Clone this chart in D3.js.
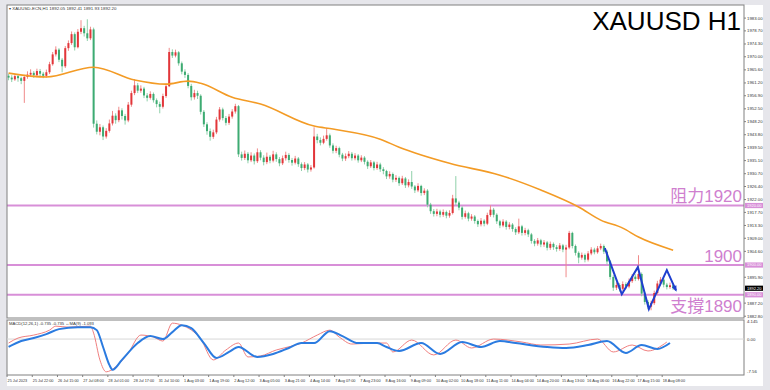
<!DOCTYPE html>
<html>
<head>
<meta charset="utf-8">
<script src="https://cdn.jsdelivr.net/npm/d3@7/dist/d3.min.js"></script>
<style>
  html, body { margin: 0; padding: 0; background: #e6e6eb; }
  svg { display: block; }
  text { font-family: "Liberation Sans", Arial, sans-serif; }
</style>
</head>
<body>
<svg id="chart" width="770" height="390"></svg>
<script>
// XAUUSD H1 candles (one candle per 2 hours of the original chart)
let opens = [1963.6,1963.0,1962.4,1963.5,1962.8,1961.9,1963.2,1964.0,1964.6,1963.8,1965.2,1964.3,1963.6,1964.8,1967.5,1970.8,1972.4,1969.0,1966.8,1972.9,
  1974.6,1977.6,1973.2,1978.4,1979.6,1977.9,1976.2,1979.2,1947.5,1944.8,1946.3,1943.2,1945.1,1947.6,1950.2,1948.7,1952.0,1950.1,1948.6,1953.9,
  1957.8,1960.4,1958.6,1959.3,1957.0,1956.2,1957.5,1955.4,1954.1,1953.2,1956.8,1960.1,1971.6,1970.4,1971.5,1967.8,1965.0,1963.9,1960.2,1956.4,
  1957.8,1956.9,1951.5,1947.3,1945.0,1943.1,1944.6,1948.9,1952.3,1949.4,1947.8,1949.9,1951.6,1953.4,1937.2,1936.0,1937.4,1935.2,1936.8,1934.9,
  1937.9,1936.1,1934.6,1936.4,1935.1,1937.2,1935.6,1934.2,1935.9,1937.0,1935.3,1934.4,1935.8,1933.9,1932.6,1933.8,1932.1,1932.8,1943.2,1942.0,
  1941.1,1942.4,1943.6,1940.2,1938.4,1939.3,1937.1,1935.8,1936.6,1937.4,1935.9,1936.8,1935.2,1936.1,1934.7,1933.2,1934.5,1932.6,1933.8,1932.2,
  1931.6,1929.8,1930.6,1928.7,1929.3,1927.5,1929.1,1926.8,1927.9,1926.4,1925.1,1926.6,1924.2,1925.0,1920.3,1918.1,1917.2,1918.0,1916.9,1917.8,
  1916.6,1917.5,1922.4,1921.0,1919.3,1916.2,1917.4,1915.6,1916.3,1914.8,1913.7,1914.9,1913.9,1916.8,1918.6,1916.9,1914.7,1913.3,1914.6,1912.8,
  1913.6,1912.1,1911.0,1913.0,1910.8,1911.7,1910.3,1908.1,1907.2,1908.3,1906.9,1907.6,1905.8,1907.1,1906.0,1905.4,1906.6,1905.2,1905.9,1910.8,
  1906.4,1904.1,1902.5,1903.4,1901.8,1903.9,1905.2,1904.3,1905.6,1906.4,1904.5,1901.2,1896.0,1892.4,1893.3,1892.0,1893.6,1892.8,1894.6,1896.1,
  1895.3,1897.0,1890.4,1887.6,1886.0,1887.2,1890.6,1893.8,1895.1,1893.4,1892.6,1893.2];
let highs = [1964.3,1963.8,1964.1,1964.0,1963.3,1963.9,1965.1,1965.8,1965.2,1966.0,1965.9,1964.9,1965.7,1968.3,1971.6,1973.5,1972.9,1969.6,1973.6,1975.5,
  1978.5,1978.2,1979.3,1982.3,1980.4,1982.6,1980.1,1979.8,1948.6,1947.4,1946.9,1946.0,1948.9,1951.8,1951.0,1953.2,1952.7,1950.8,1954.8,1958.6,
  1962.5,1961.2,1960.4,1959.9,1957.8,1958.4,1958.0,1956.0,1954.9,1957.6,1961.0,1973.0,1972.5,1972.4,1971.9,1968.4,1965.8,1964.5,1960.9,1958.9,
  1958.6,1957.4,1952.1,1948.0,1945.9,1945.5,1949.8,1953.1,1952.9,1950.1,1950.8,1952.4,1954.2,1953.8,1938.1,1938.5,1938.0,1937.9,1937.5,1939.2,
  1938.6,1936.9,1937.8,1937.0,1938.4,1937.9,1936.3,1936.8,1938.1,1937.6,1936.0,1936.7,1936.3,1934.5,1934.6,1934.3,1933.6,1946.3,1944.1,1942.9,
  1943.5,1946.0,1944.2,1940.9,1940.1,1939.8,1937.7,1937.5,1938.3,1938.0,1937.6,1937.3,1936.9,1936.6,1935.2,1935.3,1935.0,1934.7,1934.4,1932.9,
  1932.0,1931.5,1931.1,1930.2,1929.8,1930.0,1929.6,1928.8,1931.6,1926.9,1927.5,1927.0,1925.8,1925.5,1920.9,1918.8,1918.9,1918.6,1918.7,1918.3,
  1918.4,1923.6,1929.9,1921.6,1919.8,1918.3,1917.9,1917.1,1916.8,1915.3,1915.8,1915.4,1917.6,1920.1,1919.2,1917.4,1915.2,1915.4,1915.1,1914.4,
  1914.1,1912.7,1915.6,1913.5,1912.5,1912.2,1910.8,1908.7,1909.1,1908.8,1908.4,1908.1,1907.9,1907.6,1906.7,1907.4,1907.1,1906.8,1911.5,1911.2,
  1906.9,1904.6,1904.2,1903.9,1904.7,1906.0,1905.8,1906.4,1907.2,1906.9,1905.1,1901.7,1896.6,1894.2,1893.9,1894.5,1894.2,1895.5,1897.0,1896.9,
  1903.3,1897.5,1890.9,1888.2,1888.0,1891.4,1894.7,1896.0,1895.6,1894.0,1894.1,1893.7];
let lows = [1962.1,1961.5,1961.9,1961.6,1960.8,1954.5,1962.6,1963.4,1962.9,1963.1,1963.5,1962.8,1963.0,1964.2,1967.0,1970.1,1968.2,1964.8,1966.2,1972.0,
  1974.0,1972.1,1972.8,1977.6,1976.8,1975.3,1975.6,1946.2,1943.9,1943.6,1942.0,1942.5,1944.5,1946.9,1947.5,1948.0,1948.9,1947.2,1948.0,1953.2,
  1957.1,1957.8,1957.9,1956.1,1955.0,1955.6,1954.6,1953.0,1951.0,1952.6,1956.2,1959.8,1969.6,1969.8,1967.0,1964.1,1962.9,1959.4,1955.3,1955.6,
  1955.8,1950.6,1946.4,1943.8,1941.8,1942.4,1944.0,1948.2,1948.6,1946.9,1947.1,1949.2,1950.9,1936.3,1935.1,1935.3,1934.2,1934.6,1933.8,1934.3,
  1935.2,1933.5,1933.9,1934.2,1934.5,1934.7,1933.2,1933.6,1935.1,1934.4,1933.4,1933.8,1933.0,1931.6,1931.9,1931.1,1931.4,1932.4,1940.9,1940.2,
  1940.6,1941.8,1939.4,1937.5,1937.6,1936.2,1934.9,1935.0,1935.9,1935.1,1935.2,1934.4,1934.6,1933.8,1932.3,1932.6,1931.8,1932.0,1931.3,1930.5,
  1928.9,1929.0,1927.8,1927.9,1926.6,1926.9,1925.9,1926.1,1925.6,1924.2,1924.5,1923.3,1923.5,1919.4,1917.2,1916.3,1916.4,1916.0,1916.2,1915.7,
  1915.9,1917.0,1920.1,1918.4,1915.3,1915.6,1914.7,1914.9,1913.9,1912.8,1913.0,1913.0,1913.4,1916.2,1916.0,1913.8,1912.4,1912.7,1911.9,1912.0,
  1911.2,1910.1,1910.4,1909.9,1910.0,1909.4,1907.2,1906.3,1906.5,1906.0,1906.1,1904.9,1905.1,1905.1,1904.5,1904.8,1904.3,1895.9,1905.3,1905.6,
  1903.2,1900.6,1901.8,1900.9,1901.2,1903.3,1903.6,1903.8,1905.0,1903.7,1900.2,1895.1,1891.3,1891.6,1891.1,1891.4,1891.9,1892.2,1894.0,1894.6,
  1894.8,1889.5,1886.7,1885.1,1884.8,1886.6,1890.0,1893.2,1892.5,1891.8,1892.0,1891.6];
let closes = [1963.0,1962.4,1963.5,1962.8,1961.9,1963.2,1964.0,1964.6,1963.8,1965.2,1964.3,1963.6,1964.8,1967.5,1970.8,1972.4,1969.0,1966.8,1972.9,1974.6,
  1977.6,1973.2,1978.4,1979.6,1977.9,1976.2,1979.2,1947.5,1944.8,1946.3,1943.2,1945.1,1947.6,1950.2,1948.7,1952.0,1950.1,1948.6,1953.9,1957.8,
  1960.4,1958.6,1959.3,1957.0,1956.2,1957.5,1955.4,1954.1,1953.2,1956.8,1960.1,1971.6,1970.4,1971.5,1967.8,1965.0,1963.9,1960.2,1956.4,1957.8,
  1956.9,1951.5,1947.3,1945.0,1943.1,1944.6,1948.9,1952.3,1949.4,1947.8,1949.9,1951.6,1953.4,1937.2,1936.0,1937.4,1935.2,1936.8,1934.9,1937.9,
  1936.1,1934.6,1936.4,1935.1,1937.2,1935.6,1934.2,1935.9,1937.0,1935.3,1934.4,1935.8,1933.9,1932.6,1933.8,1932.1,1932.8,1943.2,1942.0,1941.1,
  1942.4,1943.6,1940.2,1938.4,1939.3,1937.1,1935.8,1936.6,1937.4,1935.9,1936.8,1935.2,1936.1,1934.7,1933.2,1934.5,1932.6,1933.8,1932.2,1931.6,
  1929.8,1930.6,1928.7,1929.3,1927.5,1929.1,1926.8,1927.9,1926.4,1925.1,1926.6,1924.2,1925.0,1920.3,1918.1,1917.2,1918.0,1916.9,1917.8,1916.6,
  1917.5,1922.4,1921.0,1919.3,1916.2,1917.4,1915.6,1916.3,1914.8,1913.7,1914.9,1913.9,1916.8,1918.6,1916.9,1914.7,1913.3,1914.6,1912.8,1913.6,
  1912.1,1911.0,1913.0,1910.8,1911.7,1910.3,1908.1,1907.2,1908.3,1906.9,1907.6,1905.8,1907.1,1906.0,1905.4,1906.6,1905.2,1905.9,1910.8,1906.4,
  1904.1,1902.5,1903.4,1901.8,1903.9,1905.2,1904.3,1905.6,1906.4,1904.5,1901.2,1896.0,1892.4,1893.3,1892.0,1893.6,1892.8,1894.6,1896.1,1895.3,
  1897.0,1890.4,1887.6,1886.0,1887.2,1890.6,1893.8,1895.1,1893.4,1892.6,1893.2,1892.2];

// moving average (orange), read at some bars
let maBars   = [0, 12, 27, 40, 50, 57, 61, 71, 80, 97, 103, 118, 124, 140, 156, 169, 181, 188, 195, 200, 211];
let maValues = [1964.5,1963.2,1966.5,1962.2,1960.8,1961.8,1961.1,1956.4,1954.1,1946.7,1945.7,1942.3,1939.6,1934.2,1930.2,1925.2,1919.5,1915.1,1912.4,1909.4,1905.0];

// MACD panel
let macdBars   = [0,4,8,12,16,22,26,28,30,32,33,36,41,45,49,52,55,58,62,66,70,73,79,84,89,93,97,102,106,111,117,120,124,131,137,144,150,156,161,171,177,184,190,196,201,206,210];
let macdValues = [-1.83,-0.46,0.23,1.15,2.29,2.75,2.75,2.06,-1.83,-5.96,-7.11,-4.82,-0.92,0.69,0,1.61,3.21,2.52,-0.92,-4.36,-2.98,-1.83,-4.13,-3.44,-2.06,-0.92,-0.92,1.83,0.69,-0.92,-0.92,-1.83,-2.75,-0.92,-3.44,-0.69,-1.83,-0.46,-0.92,-1.83,-2.06,-1.38,-0.46,-3.21,-1.38,-2.29,-0.92];
let signalBars   = [0,3,8,13,15,19,26,27,29,31,34,38,42,46,49,52,55,61,65,69,73,76,80,85,90,93,98,102,105,109,116,120,122,128,135,142,147,154,163,169,178,187,192,198,203,209];
let signalValues = [-0.92,0.23,0.92,2.06,2.98,2.75,2.98,1.38,-4.82,-7.57,-6.42,-3.21,0.92,0.46,-0.46,3.67,3.21,0,-4.82,-2.52,-0.92,-4.13,-3.90,-2.52,-1.61,-0.92,0.92,2.06,0.46,-1.15,-0.92,-0.92,-2.98,-0.23,-3.67,-0.23,-2.06,0,-0.69,-1.38,-1.15,0,-2.98,-1.38,-2.75,-0.69];

// hand drawn zigzag (blue)
let zigBars   = [189.3, 194.7, 199.8, 203.3, 209.0, 211.9];
let zigPrices = [1905.7, 1890.2, 1899.3, 1885.2, 1898.3, 1891.5];

// support / resistance
let levelPrices = [1920, 1900, 1890];
let levelNames  = ["阻力1920", "1900", "支撐1890"];

// 1900.20 and 1891.50 sit under the level / price boxes, so they are left out
let priceTicks = [1983.00,1978.70,1974.30,1970.00,1965.60,1961.20,1956.90,1952.50,1948.20,1943.80,1939.50,1935.10,
  1930.70,1926.40,1922.00,1917.70,1913.30,1909.00,1904.60,1895.90,1887.20,1882.80];
let macdTicks = ["4.145", "0.00", "-7.56"];
let macdTickValues = [4.145, 0, -7.56];

let timeLabels = ["25 Jul 2023","25 Jul 22:00","26 Jul 15:00","27 Jul 08:00","28 Jul 01:00","28 Jul 17:00","31 Jul 10:00",
  "1 Aug 03:00","1 Aug 19:00","2 Aug 12:00","3 Aug 05:00","3 Aug 21:00","4 Aug 14:00","7 Aug 07:00","7 Aug 23:00",
  "8 Aug 16:00","9 Aug 09:00","10 Aug 02:00","10 Aug 18:00","11 Aug 11:00","14 Aug 04:00","14 Aug 20:00","15 Aug 13:00",
  "16 Aug 06:00","16 Aug 22:00","17 Aug 15:00","18 Aug 08:00"];
let labelEvery = 8; // bars between time labels

let lastPrice = 1892.20;

function draw() {
    let svg = d3.select("#chart");
    let left = 7, right = 744, top = 5, mainBottom = 318, macdTop = 320, macdBottom = 375;
    let purple = "#cf7fcf";

    // white chart canvas
    svg.append("rect").attr("x", 7).attr("y", 5).attr("width", 756).attr("height", 381).attr("fill", "#fff");

    let x = d3.scaleLinear().domain([-0.5, 233.5]).range([left, right]);
    let y = d3.scaleLinear().domain([1882.2, 1987.4]).range([mainBottom, top]);
    let ym = d3.scaleLinear().domain([-8.3, 4.4]).range([macdBottom, macdTop]);

    svg.append("clipPath").attr("id", "clipMain")
        .append("rect").attr("x", left).attr("y", top).attr("width", right - left).attr("height", mainBottom - top);
    svg.append("clipPath").attr("id", "clipMacd")
        .append("rect").attr("x", left).attr("y", macdTop).attr("width", right - left).attr("height", macdBottom - macdTop);

    let main = svg.append("g").attr("clip-path", "url(#clipMain)");

    // levels
    main.selectAll("line.level")
        .data(levelPrices)
        .enter()
        .append("line")
        .attr("class", "level")
        .attr("x1", left).attr("x2", right)
        .attr("y1", d => y(d)).attr("y2", d => y(d))
        .attr("stroke", "#d88fd8").attr("stroke-width", 2);

    // candles
    let candles = d3.range(closes.length).map(i => ({i: i, o: opens[i], h: highs[i], l: lows[i], c: closes[i]}));
    let up = "#e2363a", down = "#3dab72";
    let g = main.selectAll("g.candle")
        .data(candles)
        .enter()
        .append("g")
        .attr("class", "candle");
    g.append("line")
        .attr("x1", d => x(d.i)).attr("x2", d => x(d.i))
        .attr("y1", d => y(d.h)).attr("y2", d => y(d.l))
        .attr("stroke", d => d.c >= d.o ? "#f08a8a" : "#8fd0aa")
        .attr("stroke-width", 1);
    g.append("rect")
        .attr("x", d => x(d.i) - 1)
        .attr("width", 2)
        .attr("y", d => y(Math.max(d.o, d.c)))
        .attr("height", d => Math.max(1, Math.abs(y(d.o) - y(d.c))))
        .attr("fill", d => d.c >= d.o ? up : down);

    // moving average
    main.append("path")
        .datum(maBars.map((b, k) => [b, maValues[k]]))
        .attr("d", d3.line().x(d => x(d[0])).y(d => y(d[1])).curve(d3.curveMonotoneX))
        .attr("fill", "none")
        .attr("stroke", "#f39b25")
        .attr("stroke-width", 1.6);

    // zigzag
    let zig = zigBars.map((b, k) => [x(b), y(zigPrices[k])]);
    main.append("path")
        .attr("d", d3.line()(zig))
        .attr("fill", "none")
        .attr("stroke", "#1f3fcf")
        .attr("stroke-width", 2)
        .attr("stroke-linejoin", "miter");
    let [p1, p2] = zig.slice(-2);
    let ang = Math.atan2(p2[1] - p1[1], p2[0] - p1[0]);
    let ah = 5;
    main.append("path")
        .attr("d", d3.line()([
            [p2[0] + 1.5 * Math.cos(ang), p2[1] + 1.5 * Math.sin(ang)],
            [p2[0] - ah * Math.cos(ang - 0.5), p2[1] - ah * Math.sin(ang - 0.5)],
            [p2[0] - ah * Math.cos(ang + 0.5), p2[1] - ah * Math.sin(ang + 0.5)]
        ]) + "Z")
        .attr("fill", "#1f3fcf");

    // level labels
    svg.selectAll("text.levelname")
        .data(levelPrices)
        .enter()
        .append("text")
        .attr("class", "levelname")
        .attr("x", right - 2)
        .attr("y", (d, k) => k == 2 ? y(d) + 17 : y(d) - 3.5)
        .attr("text-anchor", "end")
        .attr("fill", purple)
        .style("font-family", "'Liberation Sans', 'Noto Sans CJK TC', sans-serif")
        .style("font-size", "17px")
        .text((d, k) => levelNames[k]);

    // title
    svg.append("text")
        .attr("x", 741).attr("y", 30)
        .attr("text-anchor", "end")
        .style("font-size", "26px")
        .attr("fill", "#000")
        .text("XAUUSD H1");

    svg.append("text")
        .attr("x", 9).attr("y", 9.5)
        .style("font-size", "4.4px")
        .attr("fill", "#333")
        .text("\u25BE XAUUSD-ECN,H1  1892.05 1892.41 1891.93 1892.20");

    // panel frames
    svg.append("rect").attr("x", left).attr("y", top).attr("width", right - left).attr("height", mainBottom - top)
        .attr("fill", "none").attr("stroke", "#808080").attr("stroke-width", 1);
    svg.append("rect").attr("x", left).attr("y", macdTop).attr("width", right - left).attr("height", macdBottom - macdTop)
        .attr("fill", "none").attr("stroke", "#808080").attr("stroke-width", 1);

    // price axis
    let pa = svg.append("g");
    pa.selectAll("line")
        .data(priceTicks)
        .enter()
        .append("line")
        .attr("x1", right).attr("x2", right + 2)
        .attr("y1", d => y(d)).attr("y2", d => y(d))
        .attr("stroke", "#808080");
    pa.selectAll("text")
        .data(priceTicks)
        .enter()
        .append("text")
        .attr("x", right + 3).attr("y", d => y(d) + 1.5)
        .style("font-size", "4.3px")
        .attr("fill", "#333")
        .text(d => d.toFixed(2));

    // price boxes on the axis
    let boxes = levelPrices.map(p => ({p: p, bg: "#d88fd8"})).concat([{p: lastPrice, bg: "#000"}]);
    let bx = svg.selectAll("g.pbox")
        .data(boxes)
        .enter()
        .append("g")
        .attr("class", "pbox");
    bx.append("rect")
        .attr("x", right + 1).attr("y", d => y(d.p) - 2.6)
        .attr("width", 18).attr("height", 5.2)
        .attr("fill", d => d.bg);
    bx.append("text")
        .attr("x", right + 3).attr("y", d => y(d.p) + 1.4)
        .style("font-size", "4px")
        .attr("fill", "#fff")
        .text(d => d.p.toFixed(2));

    // MACD panel
    let mg = svg.append("g").attr("clip-path", "url(#clipMacd)");
    mg.append("line")
        .attr("x1", left).attr("x2", right)
        .attr("y1", ym(0)).attr("y2", ym(0))
        .attr("stroke", "#d8d8d8").attr("stroke-width", 1);
    mg.append("path")
        .datum(signalBars.map((b, k) => [b, signalValues[k]]))
        .attr("d", d3.line().x(d => x(d[0])).y(d => ym(d[1])).curve(d3.curveMonotoneX))
        .attr("fill", "none").attr("stroke", "#f07f7f").attr("stroke-width", 1);
    mg.append("path")
        .datum(macdBars.map((b, k) => [b, macdValues[k]]))
        .attr("d", d3.line().x(d => x(d[0])).y(d => ym(d[1])).curve(d3.curveMonotoneX))
        .attr("fill", "none").attr("stroke", "#2b7be0").attr("stroke-width", 2);

    svg.append("text")
        .attr("x", 9).attr("y", 324.5)
        .style("font-size", "4.2px")
        .attr("fill", "#333")
        .text("MACD(12,26,1) -0.735 -0.735  \u2194MA(9) -1.093");

    svg.selectAll("text.macdtick")
        .data(macdTickValues)
        .enter()
        .append("text")
        .attr("class", "macdtick")
        .attr("x", right + 3).attr("y", d => ym(d) + 1.5)
        .style("font-size", "4.3px")
        .attr("fill", "#333")
        .text((d, k) => macdTicks[k]);

    // time axis
    let ta = svg.append("g");
    ta.selectAll("line")
        .data(timeLabels)
        .enter()
        .append("line")
        .attr("x1", (d, k) => x(k * labelEvery) - 1.5).attr("x2", (d, k) => x(k * labelEvery) - 1.5)
        .attr("y1", macdBottom).attr("y2", macdBottom + 2)
        .attr("stroke", "#808080");
    ta.selectAll("text")
        .data(timeLabels)
        .enter()
        .append("text")
        .attr("x", (d, k) => x(k * labelEvery) - 1)
        .attr("y", 382)
        .style("font-size", "3.8px")
        .attr("fill", "#333")
        .text(d => d);
}

draw();
</script>
</body>
</html>
